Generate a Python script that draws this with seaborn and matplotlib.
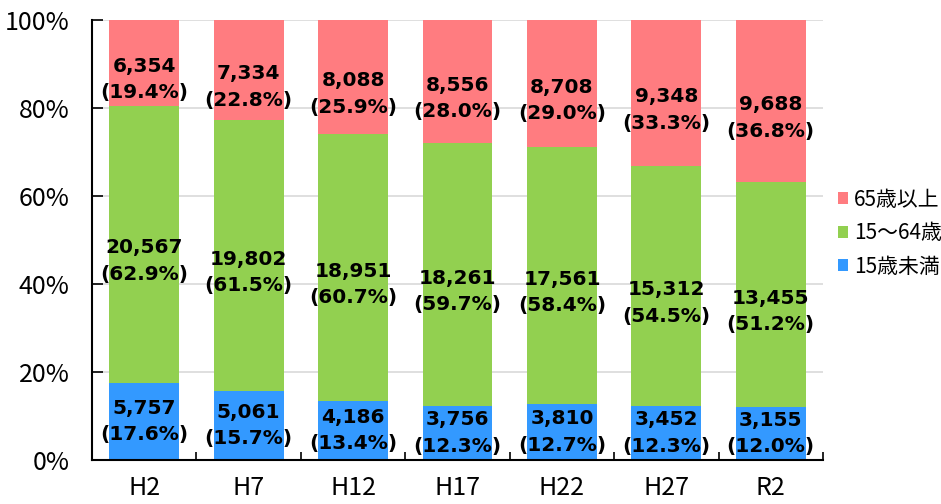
import pandas as pd
import matplotlib.pyplot as plt
import seaborn as sns

# Population by age group (counts and shares as printed on the chart)
years = ['H2', 'H7', 'H12', 'H17', 'H22', 'H27', 'R2']
under15 = [5757, 5061, 4186, 3756, 3810, 3452, 3155]
age15_64 = [20567, 19802, 18951, 18261, 17561, 15312, 13455]
over65 = [6354, 7334, 8088, 8556, 8708, 9348, 9688]
under15_pct = [17.6, 15.7, 13.4, 12.3, 12.7, 12.3, 12.0]
age15_64_pct = [62.9, 61.5, 60.7, 59.7, 58.4, 54.5, 51.2]
over65_pct = [19.4, 22.8, 25.9, 28.0, 29.0, 33.3, 36.8]

series_names = ['15歳未満', '15～64歳', '65歳以上']
colors = ['#3399FF', '#92D050', '#FF7C80']

df = pd.DataFrame({'year': years, 'u15': under15, 'mid': age15_64, 'o65': over65})
total = df['u15'] + df['mid'] + df['o65']
shares = pd.DataFrame({'year': years,
                       'u15': df['u15'] / total * 100,
                       'mid': df['mid'] / total * 100,
                       'o65': df['o65'] / total * 100})

sns.set_style('white')
plt.rcParams['font.family'] = ['Noto Sans CJK JP', 'DejaVu Sans']
plt.rcParams['text.color'] = 'black'
plt.rcParams['xtick.color'] = 'black'
plt.rcParams['ytick.color'] = 'black'

fig = plt.figure(figsize=(9.41, 5.04), dpi=100)
ax = fig.add_axes([0.0978, 0.0873, 0.7768, 0.8727])

cols = ['u15', 'mid', 'o65']
counts = [under15, age15_64, over65]
pcts = [under15_pct, age15_64_pct, over65_pct]
bottom = pd.Series([0.0] * len(years))
for i, col in enumerate(cols):
    sns.barplot(x=shares['year'], y=shares[col], bottom=bottom.values, color=colors[i],
                saturation=1, width=0.67, label=series_names[i], ax=ax, zorder=2,
                linewidth=0)
    for j in range(len(years)):
        mid = bottom[j] + shares[col][j] / 2
        if i > 0:
            mid -= 3.8
        ax.text(j, mid, f'{counts[i][j]:,}\n({pcts[i][j]:.1f}%)', ha='center', va='center',
                fontsize=14.5, fontweight='bold', family='DejaVu Sans', linespacing=1.5,
                color='black', zorder=3)
    bottom = bottom + shares[col]

ax.set_ylim(0, 100)
ax.set_xlim(-0.5, len(years) - 0.5)
ax.set_yticks(range(0, 101, 20))
ax.set_yticklabels([f'{v}%' for v in range(0, 101, 20)], fontsize=18)
ax.set_xticks(range(len(years)))
ax.set_xticklabels(years, fontsize=18)
ax.set_xticks([k - 0.5 for k in range(len(years) + 1)], minor=True)
ax.tick_params(axis='x', which='major', bottom=False, length=0, pad=11)
ax.tick_params(axis='x', which='minor', bottom=True, direction='in', length=6,
               width=1.2, color='black')
ax.tick_params(axis='y', left=True, direction='in', length=8, width=1.2,
               color='black', pad=16)
ax.set_xlabel('')
ax.set_ylabel('')
ax.yaxis.grid(True, color='#D9D9D9', linewidth=1.2, zorder=0)
ax.set_axisbelow(True)
for s in ['top', 'right']:
    ax.spines[s].set_visible(False)
for s in ['left', 'bottom']:
    ax.spines[s].set_color('black')
    ax.spines[s].set_linewidth(1.5)

handles, labels = ax.get_legend_handles_labels()
ax.legend(handles[::-1], labels[::-1], loc='center left', bbox_to_anchor=(1.0, 0.516),
          frameon=False, fontsize=15, handlelength=0.5, handleheight=0.5,
          handletextpad=0.3, labelspacing=0.55, borderaxespad=0.3)

fig.savefig('out.png', dpi=100)
